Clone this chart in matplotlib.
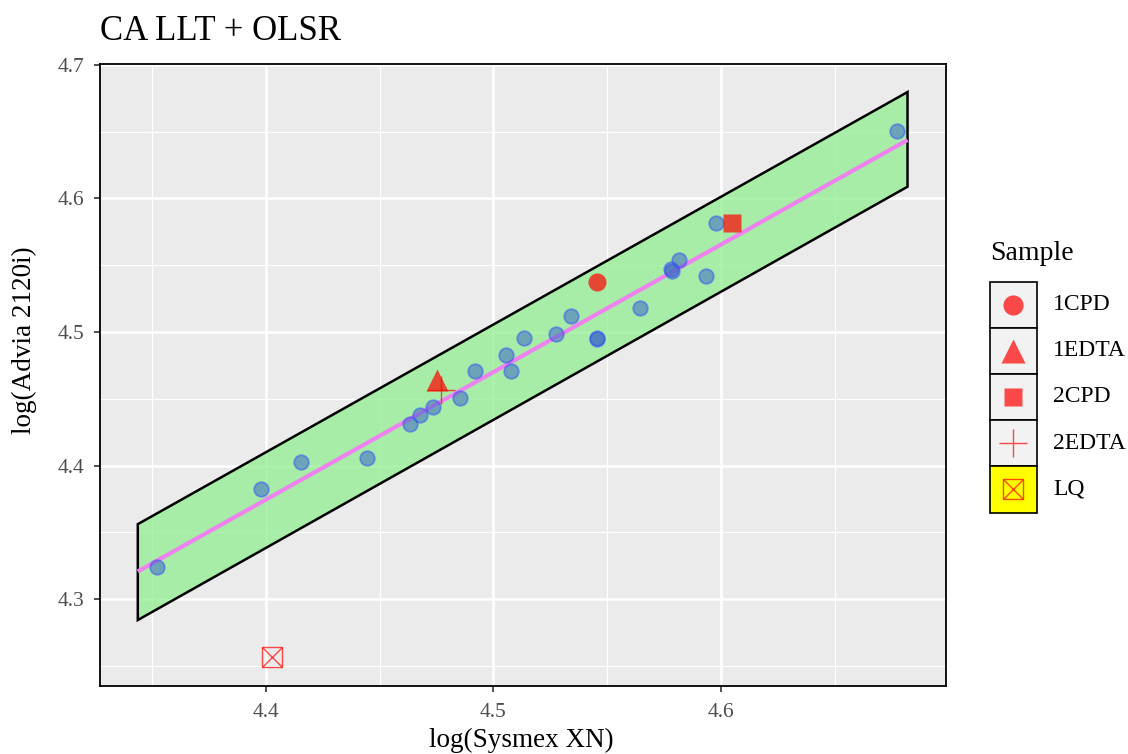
import matplotlib
matplotlib.use("Agg")
import matplotlib.pyplot as plt
from matplotlib.patches import Polygon, Rectangle
import numpy as np

# ---------------- data ----------------
x_points = [4.3524, 4.3981, 4.4155, 4.4445, 4.4635, 4.4678, 4.4735, 4.4855,
            4.4919, 4.5054, 4.5079, 4.5133, 4.5275, 4.5339, 4.5455, 4.5457,
            4.5645, 4.5779, 4.5786, 4.5815, 4.5934, 4.5979, 4.6771]
y_points = [4.3240, 4.3826, 4.4025, 4.4055, 4.4312, 4.4379, 4.4437, 4.4503,
            4.4709, 4.4826, 4.4709, 4.4958, 4.4986, 4.5121, 4.4951, 4.4953,
            4.5180, 4.5470, 4.5460, 4.5540, 4.5422, 4.5819, 4.6505]

sample_names = ["1CPD", "1EDTA", "2CPD", "2EDTA", "LQ"]
sample_x = [4.5456, 4.4754, 4.6049, 4.4769, 4.4029]
sample_y = [4.5373, 4.4641, 4.5814, 4.4567, 4.2563]

band_x = [4.3438, 4.6819]
fit_y = [4.3207, 4.6438]
band_upper = [4.3561, 4.6797]
band_lower = [4.2843, 4.6088]

x_ticks = [4.4, 4.5, 4.6]
y_ticks = [4.3, 4.4, 4.5, 4.6, 4.7]
x_minor = [4.35, 4.45, 4.55, 4.65]
y_minor = [4.25, 4.35, 4.45, 4.55, 4.65]

title = "CA LLT + OLSR"
xlabel = "log(Sysmex XN)"
ylabel = "log(Advia 2120i)"
legend_title = "Sample"

# ---------------- style ----------------
W, H = 1128, 754
fig = plt.figure(figsize=(W / 100, H / 100), dpi=100)
serif = ["Liberation Serif", "DejaVu Serif"]
plt.rcParams["font.family"] = serif

ax = fig.add_axes([100 / W, (H - 686) / H, (946 - 100) / W, (686 - 64) / H])
ax.set_facecolor("#ebebeb")
ax.set_xlim(4.3272, 4.6988)
ax.set_ylim(4.2349, 4.7007)

for v in x_minor:
    ax.axvline(v, color="white", lw=0.9, zorder=0.5)
for v in y_minor:
    ax.axhline(v, color="white", lw=0.9, zorder=0.5)
for v in x_ticks:
    ax.axvline(v, color="white", lw=1.8, zorder=0.6)
for v in y_ticks:
    ax.axhline(v, color="white", lw=1.8, zorder=0.6)

# band polygon
poly_pts = [(band_x[0], band_lower[0]), (band_x[1], band_lower[1]),
            (band_x[1], band_upper[1]), (band_x[0], band_upper[0])]
ax.add_patch(Polygon(poly_pts, closed=True, facecolor=(144/255, 238/255, 144/255, 0.75),
                     edgecolor="black", lw=1.8, zorder=1, joinstyle="miter"))

# fit line
ax.plot(band_x, fit_y, color="violet", lw=3.0, zorder=2, solid_capstyle="butt")

# blue points
ax.plot(x_points, y_points, linestyle="none", marker="o", markersize=10.5,
        markerfacecolor=(0.24, 0.40, 0.78, 0.55), markeredgecolor=(0.2, 0.3, 1.0, 0.5),
        markeredgewidth=1.3, zorder=3)

red = (1.0, 0.0, 0.0, 0.7)
styles = {
    "1CPD": dict(marker="o", markersize=13, markerfacecolor=red, markeredgecolor="none"),
    "1EDTA": dict(marker="^", markersize=16, markerfacecolor=red, markeredgecolor="none"),
    "2CPD": dict(marker="s", markersize=13, markerfacecolor=red, markeredgecolor="none"),
    "2EDTA": dict(marker="+", markersize=20, markeredgecolor=red, markeredgewidth=1.0),
}
for name, sx, sy in zip(sample_names, sample_x, sample_y):
    if name == "LQ":
        ax.plot([sx], [sy], linestyle="none", marker="s", markersize=14,
                markerfacecolor="none", markeredgecolor=red, markeredgewidth=1.0, zorder=4)
        ax.plot([sx], [sy], linestyle="none", marker="x", markersize=14,
                markeredgecolor=red, markeredgewidth=1.0, zorder=4)
    else:
        ax.plot([sx], [sy], linestyle="none", zorder=4, **styles[name])

ax.set_xticks(x_ticks)
ax.set_yticks(y_ticks)
ax.set_xticklabels([f"{v:.1f}" for v in x_ticks])
ax.set_yticklabels([f"{v:.1f}" for v in y_ticks])
ax.tick_params(axis="both", colors="#333333", labelcolor="#4d4d4d", labelsize=15.5,
               length=4, width=1.2, direction="out")
ax.tick_params(axis="x", pad=8)
ax.tick_params(axis="y", pad=7)
for s in ax.spines.values():
    s.set_color("black")
    s.set_linewidth(1.3)

ax.set_xlabel(xlabel, fontsize=19.5)
ax.xaxis.label.set_va("center")
ax.xaxis.set_label_coords((521.5 - 100) / 846, (686 - 740) / 622)
ax.set_ylabel(ylabel, fontsize=19.5)
ax.yaxis.label.set_va("center")
ax.yaxis.set_label_coords((24 - 100) / 846, (686 - 340) / 622)

fig.text(100 / W, 1 - 31 / H, title, fontsize=25, ha="left", va="center")

# ---------------- legend ----------------
lax = fig.add_axes([990 / W, (H - 512.5) / H, 46.5 / W, (512.5 - 281.5) / H])
lax.set_xlim(0, 1)
lax.set_ylim(0, 5)
lax.axis("off")
bgs = ["#f2f2f2", "#f2f2f2", "#f2f2f2", "#f2f2f2", "yellow"]
for i, name in enumerate(sample_names):
    yc = 4.5 - i
    lax.add_patch(Rectangle((0, 4 - i), 1, 1, facecolor=bgs[i], edgecolor="black",
                            lw=1.2, clip_on=False))
    if name == "LQ":
        lax.plot([0.5], [yc], marker="s", markersize=14, markerfacecolor="none",
                 markeredgecolor=red, markeredgewidth=1.0, clip_on=False)
        lax.plot([0.5], [yc], marker="x", markersize=14, markeredgecolor=red,
                 markeredgewidth=1.0, clip_on=False)
    else:
        st = dict(styles[name])
        if name == "1CPD":
            st["markersize"] = 14.5
        if name == "1EDTA":
            st["markersize"] = 17
        lax.plot([0.5], [yc], clip_on=False, **st)
    fig.text(1053 / W, 1 - (281.5 + 46.2 * (i + 0.5)) / H, name, fontsize=17,
             ha="left", va="center")
fig.text(990 / W, 1 - 253 / H, legend_title, fontsize=20, ha="left", va="center")

fig.savefig("out.png", dpi=100)
